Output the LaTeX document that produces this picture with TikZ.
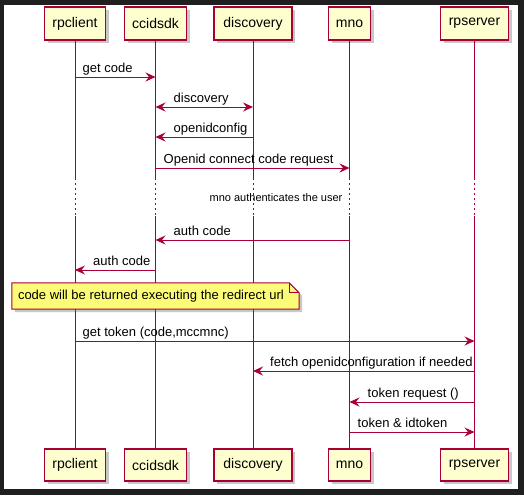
\documentclass[tikz,border=0pt]{standalone}
\usepackage{fontspec}
\setmainfont{Liberation Sans}
\usetikzlibrary{arrows.meta,shadows}
\definecolor{crim}{HTML}{A80036}
\definecolor{boxfill}{HTML}{FEFECE}
\definecolor{notefill}{HTML}{FBFB77}
\definecolor{frame}{HTML}{1F1F1F}
\tikzset{
  actor/.style={draw=crim, line width=1.5pt, fill=boxfill, minimum height=33pt, inner sep=0pt,
    font=\fontsize{14}{16}\selectfont,
    drop shadow={shadow xshift=3pt, shadow yshift=-3pt, opacity=0.3, fill=black!70}},
  life/.style={draw=crim, line width=1pt},
  delayline/.style={draw=crim, line width=1pt, dash pattern=on 1.5pt off 3.5pt},
  msg/.style={draw=crim, line width=1pt, -{Stealth[length=10pt,width=9pt,inset=3.5pt]}},
  bimsg/.style={draw=crim, line width=1pt, {Stealth[length=10pt,width=9pt,inset=3.5pt]}-{Stealth[length=10pt,width=9pt,inset=3.5pt]}},
  lbl/.style={anchor=base west, inner sep=0pt, font=\fontsize{13}{15}\selectfont},
  smalllbl/.style={inner sep=0pt, font=\fontsize{11}{13}\selectfont},
  notetext/.style={inner sep=0pt, minimum width=287pt, minimum height=26pt, font=\fontsize{13}{15}\selectfont}
}
\begin{document}
\begin{tikzpicture}[x=1pt,y=-1pt]
\useasboundingbox (0,0) rectangle (524,495);
\fill[frame] (0,0) rectangle (524,495);
\fill[white] (4,5) rectangle (518,489);

% participants (top)
\node[actor, minimum width=61pt] (rpT) at (75,23.5) {rpclient};
\node[actor, minimum width=62pt] (ccT) at (155.5,23.5) {ccidsdk};
\node[actor, minimum width=78pt] (diT) at (253,23.5) {discovery};
\node[actor, minimum width=42pt] (mnT) at (349.5,23.5) {mno};
\node[actor, minimum width=68pt] (rsT) at (474.5,23.5) {rpserver};
% participants (bottom)
\node[actor, minimum width=61pt, minimum height=32pt] (rpB) at (75,465) {rpclient};
\node[actor, minimum width=62pt, minimum height=32pt] (ccB) at (155.5,465) {ccidsdk};
\node[actor, minimum width=78pt, minimum height=32pt] (diB) at (253,465) {discovery};
\node[actor, minimum width=42pt, minimum height=32pt] (mnB) at (349.5,465) {mno};
\node[actor, minimum width=68pt, minimum height=32pt] (rsB) at (474.5,465) {rpserver};

% delay coordinates
\coordinate (dtop) at (0,178);
\coordinate (dbot) at (0,216);

% lifelines
\foreach \n in {rp,cc,di,mn,rs} {
  \draw[life] (\n T) -- (\n T |- dtop);
  \draw[delayline] (\n T |- dtop) -- (\n T |- dbot);
  \draw[life] (\n T |- dbot) -- (\n B);
}

% message rows
\coordinate (m1) at (0,77);
\coordinate (m2) at (0,107);
\coordinate (m3) at (0,137);
\coordinate (m4) at (0,168);
\coordinate (m5) at (0,240);
\coordinate (m6) at (0,270);
\coordinate (m7) at (0,341);
\coordinate (m8) at (0,371);
\coordinate (m9) at (0,402);
\coordinate (m10) at (0,432);

\draw[msg] (rpT |- m1) -- (ccT |- m1);
\path (rpT |- m1) ++(7.5,-5) node[lbl] (l1) {get code};

\draw[bimsg] (ccT |- m2) -- (diT |- m2);
\path (ccT |- m2) ++(18,-5) node[lbl] (l2) {discovery};

\draw[msg] (diT |- m3) -- (ccT |- m3);
\path (ccT |- m3) ++(18,-5) node[lbl] (l3) {openidconfig};

\draw[msg] (ccT |- m4) -- (mnT |- m4);
\path (ccT |- m4) ++(8,-5) node[lbl] (l4) {Openid connect code request};

\node[smalllbl] (delaytxt) at (276,198) {mno authenticates the user};

\draw[msg] (mnT |- m5) -- (ccT |- m5);
\path (ccT |- m5) ++(18,-5) node[lbl] (l5) {auth code};

\draw[msg] (ccT |- m6) -- (rpT |- m6);
\path (rpT |- m6) ++(18,-5) node[lbl] (l6) {auth code};

% note
\node[notetext] (note) at (155.5,296) {};
\path[fill=notefill, draw=crim, line width=1pt,
  drop shadow={shadow xshift=3pt, shadow yshift=-3pt, opacity=0.3, fill=black!70}]
  (note.north west) -- ([xshift=-10pt]note.north east) -- ([yshift=-10pt]note.north east)
  -- (note.south east) -- (note.south west) -- cycle;
\draw[crim, line width=1pt] ([xshift=-10pt]note.north east) -- ([xshift=-10pt,yshift=-10pt]note.north east) -- ([yshift=-10pt]note.north east);
\node[anchor=west, inner sep=0pt, font=\fontsize{13}{15}\selectfont] (notelbl) at ([xshift=6pt]note.west) {code will be returned executing the redirect url};

\draw[msg] (rpT |- m7) -- (rsT |- m7);
\path (rpT |- m7) ++(7.5,-5) node[lbl] (l7) {get token (code,mccmnc)};

\draw[msg] (rsT |- m8) -- (diT |- m8);
\path (diT |- m8) ++(17,-5) node[lbl] (l8) {fetch openidconfiguration if needed};

\draw[msg] (rsT |- m9) -- (mnT |- m9);
\path (mnT |- m9) ++(18,-5) node[lbl] (l9) {token request ()};

\draw[msg] (mnT |- m10) -- (rsT |- m10);
\path (mnT |- m10) ++(8,-5) node[lbl] (l10) {token \& idtoken};
\end{tikzpicture}
\end{document}
